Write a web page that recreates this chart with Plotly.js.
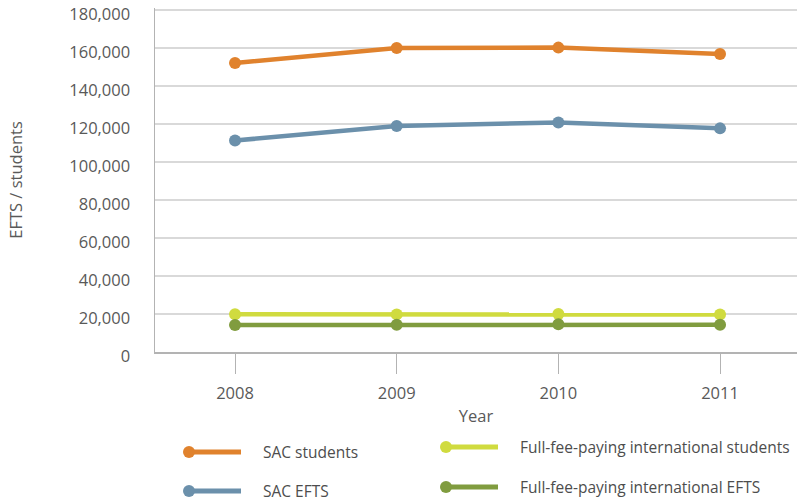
<!DOCTYPE html>
<html>
<head>
<meta charset="utf-8">
<script src="https://cdn.plot.ly/plotly-3.0.1.min.js"></script>
<style>html,body{margin:0;padding:0;background:#fff;}#chart{width:797px;height:502px;}</style>
</head>
<body>
<div id="chart"></div>
<script>
var years = [2008, 2009, 2010, 2011];
var sacStudents = [152100, 160000, 160200, 156800];
var sacEfts = [111300, 119000, 120800, 117700];
var intlStudents = [19900, 19800, 20000, 19700];
var intlEfts = [14200, 14300, 14600, 14300];
var yTicks = [0, 20000, 40000, 60000, 80000, 100000, 120000, 140000, 160000, 180000];
var yTickText = ['0', '20,000', '40,000', '60,000', '80,000', '100,000', '120,000', '140,000', '160,000', '180,000'];

var series = [
  {name: 'SAC students', y: sacStudents, color: '#E0822D'},
  {name: 'SAC EFTS', y: sacEfts, color: '#6B90AB'},
  {name: 'Full-fee-paying international students', y: intlStudents, color: '#D0DB3F'},
  {name: 'Full-fee-paying international EFTS', y: intlEfts, color: '#809C3F'}
];

var traces = series.map(function (s) {
  return {
    x: years, y: s.y, name: s.name, type: 'scatter', mode: 'lines+markers',
    line: {color: s.color, width: 4.5},
    marker: {color: s.color, size: 12},
    showlegend: false, cliponaxis: false
  };
});

// custom legend (positions in pixels converted to paper coords)
var L = 155, W = 642, T = 8, H = 344;
function px(x) { return (x - L) / W; }
function py(y) { return (T + H - y) / H; }
var legendPos = [
  {mx: 189, y: 452, tx: 263},
  {mx: 189, y: 491, tx: 263},
  {mx: 446, y: 447, tx: 520},
  {mx: 446, y: 487, tx: 520}
];
var shapes = [], annotations = [];
series.forEach(function (s, i) {
  var p = legendPos[i];
  shapes.push({type: 'line', xref: 'paper', yref: 'paper', x0: px(p.mx), x1: px(p.mx + 52), y0: py(p.y), y1: py(p.y),
    line: {color: s.color, width: 5}});
  shapes.push({type: 'circle', xref: 'paper', yref: 'paper', xsizemode: 'pixel', ysizemode: 'pixel',
    xanchor: px(p.mx), yanchor: py(p.y), x0: -6, x1: 6, y0: -6, y1: 6,
    fillcolor: s.color, line: {width: 0}});
  annotations.push({xref: 'paper', yref: 'paper', x: px(p.tx - 2), y: py(p.y), xanchor: 'left', yanchor: 'middle',
    text: s.name, showarrow: false, font: {family: 'Open Sans', size: 15.5, color: '#4d4d4d'}});
});

var layout = {
  width: 797, height: 502,
  margin: {l: 155, r: 0, t: 8, b: 150},
  paper_bgcolor: '#fff', plot_bgcolor: '#fff',
  font: {family: 'Open Sans', color: '#595959', size: 16},
  showlegend: false,
  xaxis: {
    range: [2007.505, 2011.476], tickvals: years, ticktext: years.map(String),
    showgrid: false, zeroline: false, showline: true, linecolor: '#b3b3b3', linewidth: 1.5,
    ticks: 'outside', ticklen: 20, tickcolor: '#b3b3b3', tickwidth: 1, ticklabelstandoff: 6,
    tickfont: {family: 'Open Sans', size: 16.5, color: '#595959'},
    title: {text: 'Year', font: {family: 'Open Sans', size: 16.5, color: '#595959'}, standoff: 7}
  },
  yaxis: {
    range: [0, 181053], tickvals: yTicks, ticktext: yTickText, ticklabeloverflow: 'allow',
    ticklabelshift: 4,
    showgrid: true, gridcolor: '#d9d9d9', gridwidth: 1.2, zeroline: false,
    showline: true, linecolor: '#b3b3b3', linewidth: 1.5,
    ticks: 'outside', ticklen: 20, tickcolor: 'rgba(0,0,0,0)',
    tickfont: {family: 'Open Sans', size: 16.5, color: '#595959'},
    title: {text: 'EFTS / students', font: {family: 'Open Sans', size: 16.5, color: '#595959'}, standoff: 42}
  },
  shapes: shapes,
  annotations: annotations
};

Plotly.newPlot('chart', traces, layout, {displayModeBar: false, staticPlot: true});
</script>
</body>
</html>
